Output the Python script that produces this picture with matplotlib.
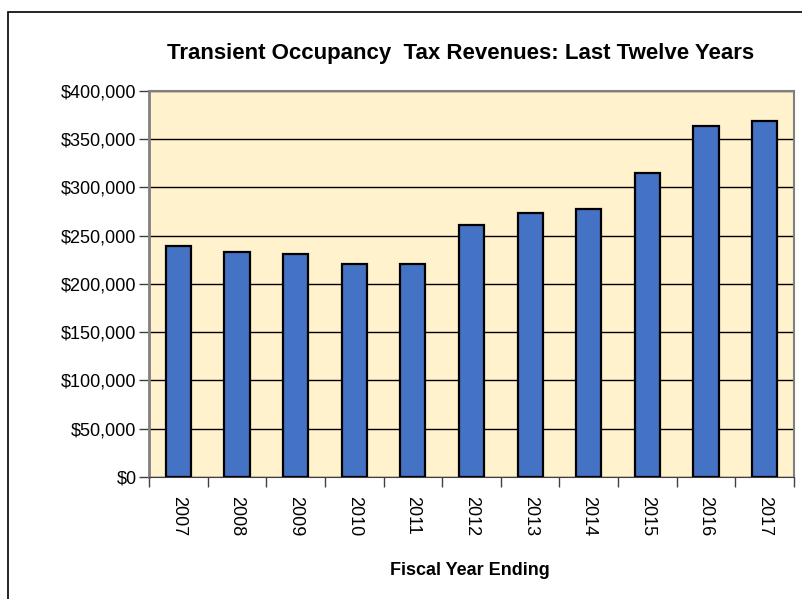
import matplotlib.pyplot as plt
from matplotlib.patches import Rectangle
from matplotlib.ticker import FuncFormatter, FixedLocator

plt.rcParams['font.family'] = ['Liberation Sans', 'DejaVu Sans']

# Transient occupancy tax revenues by fiscal year
years = ["2007", "2008", "2009", "2010", "2011", "2012",
         "2013", "2014", "2015", "2016", "2017"]
revenues = [239000, 233000, 231500, 220500, 220500, 261000,
            273500, 278000, 315000, 363500, 368500]

fig = plt.figure(figsize=(8.03, 5.99), dpi=100)
ax = fig.add_axes([0.1856, 0.2037, 0.8032, 0.6445])

# outer chart border
fig.patches.append(Rectangle((8 / 803, -0.05), 1.2, (599 - 12) / 599 + 0.05,
                             transform=fig.transFigure, fill=False,
                             edgecolor="black", linewidth=1.2))

x = list(range(len(years)))
ax.set_facecolor("#FFF2CC")
ax.bar(x, revenues, width=0.43, color="#4472C4", edgecolor="black",
       linewidth=1.6, zorder=3)

ax.set_ylim(0, 400000)
ax.set_xlim(-0.5, len(years) - 0.5)
ax.set_yticks(range(0, 400001, 50000))
ax.yaxis.set_major_formatter(FuncFormatter(lambda v, p: "${:,.0f}".format(v)))
ax.grid(axis="y", color="black", linewidth=1.0, zorder=1)

ax.set_xticks(x)
ax.set_xticklabels(years, rotation=270, fontsize=13)
ax.xaxis.set_minor_locator(FixedLocator([i - 0.5 for i in range(len(years) + 1)]))
ax.tick_params(axis="x", which="major", length=0, pad=14)
ax.tick_params(axis="x", which="minor", length=7, width=1, color="#404040")
ax.tick_params(axis="y", labelsize=13, length=7, width=1, color="#404040", pad=2)

for side in ["left", "top", "right"]:
    ax.spines[side].set_color("#808080")
ax.spines["left"].set_linewidth(2)
ax.spines["top"].set_linewidth(1.5)
ax.spines["right"].set_linewidth(1.5)
ax.spines["bottom"].set_color("#404040")

fig.text(0.573, 0.911, "Transient Occupancy  Tax Revenues: Last Twelve Years",
         ha="center", va="center", fontsize=16, fontweight="bold")
fig.text(0.585, 0.048, "Fiscal Year Ending", ha="center", va="center",
         fontsize=13, fontweight="bold")

fig.savefig("out.png", dpi=100)
